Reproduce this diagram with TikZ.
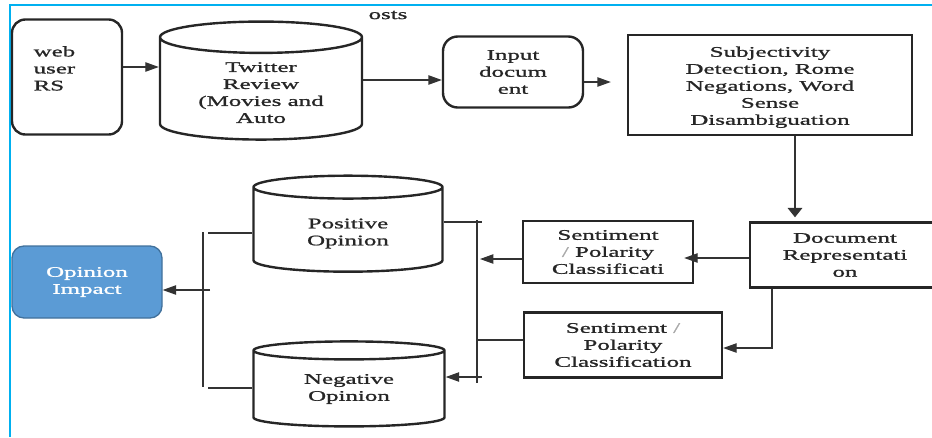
\documentclass[tikz,border=0pt]{standalone}
\usepackage{fontspec}
\setmainfont[FakeStretch=1.7,FakeBold=1.2]{Liberation Serif}
\usetikzlibrary{shapes.geometric,arrows.meta}
\definecolor{framecol}{HTML}{00B0F0}
\definecolor{impfill}{HTML}{5B9BD5}
\definecolor{impdraw}{HTML}{41719C}
\definecolor{slashcol}{HTML}{A8A8A8}
\newcommand\lineset[3][c]{\raisebox{#2}[0pt][0pt]{\begin{tabular}{@{}#1@{}}#3\end{tabular}}}

\begin{document}
\begin{tikzpicture}[x=0.75pt,y=-0.75pt,
        every node/.style={font=\fontsize{11}{12.75}\selectfont,align=center,text=black!85},
        box/.style={draw=black!85,line width=1.8pt,inner sep=0pt},
        roundbox/.style={box,rounded corners=10pt},
        dbase/.style={box,cylinder,shape border rotate=90,aspect=0.25},
        wire/.style={draw=black!80,line width=0.8pt},
        arr/.style={wire,-{Triangle[length=10pt,width=7pt]}}]
        \useasboundingbox (0,0) rectangle (932,437);
        \clip (0,0) rectangle (932,437);
        \draw[framecol,line width=1.6pt] (10,437) -- (10,5) -- (932,5);

        \node (posts) at (388,15) {osts};
        \node[roundbox,minimum width=82.5pt,minimum height=86.25pt,text width=50pt,align=left] (web) at (67,77) {\lineset[l]{2.5pt}{web\\user\\RS}};
        \node[dbase,minimum width=151.5pt,minimum height=88.5pt] (twitter) at (261,89) {\lineset{-6.5pt}{Twitter\\Review\\(Movies and\\Auto}};
        \node[roundbox,rounded corners=11pt,minimum width=105pt,minimum height=53.25pt] (input) at (513,72) {Input\\docum\\ent};
        \node[box,minimum width=213pt,minimum height=75pt] (subj) at (770,85) {\lineset{-4.5pt}{Subjectivity\\Detection, Rome\\Negations, Word\\Sense\\Disambiguation}};
        \node[box,minimum width=142.5pt,minimum height=48.75pt] (doc) at (845,255) {Document\\Representati\\on};
        \node[box,minimum width=127.5pt,minimum height=46.5pt] (sent1) at (608,252) {Sentiment\\{\color{slashcol}/} Polarity\\Classificati};
        \node[box,minimum width=148.5pt,minimum height=48.75pt] (sent2) at (623,345) {Sentiment {\color{slashcol}/}\\Polarity\\Classification};
        \node[dbase,aspect=0.28,minimum width=141.75pt,minimum height=72pt] (pos) at (348,230) {\lineset{-5.3pt}{Positive\\Opinion}};
        \node[dbase,aspect=0.2,minimum width=143.25pt,minimum height=63.75pt] (neg) at (349,389) {Negative\\Opinion};
        \node[roundbox,draw=impdraw,fill=impfill,rounded corners=9pt,line width=1pt,minimum width=112.5pt,minimum height=54pt,text=white] (impact) at (87,282) {Opinion\\Impact};

        \coordinate (rbtop) at (477,220);
        \coordinate (rbbot) at (477,383);
        \coordinate (lbtop) at (203,232);
        \coordinate (lbbot) at (203,387);
        \coordinate (rbA) at (482,222);
        \coordinate (rbB) at (480,259);
        \coordinate (rbC) at (477,340);
        \coordinate (rbD) at (482,377);
        \coordinate (lbA) at (208,233);
        \coordinate (lbB) at (210,290);
        \coordinate (lbC) at (208,388);

        \draw[arr] (web.east |- 0,67) -- (twitter.west |- 0,67);
        \draw[arr] (twitter.east |- 0,80) -- (input.west |- 0,80);
        \draw[arr,shorten >=12pt] (input.east |- 0,82) -- (subj.west |- 0,82);
        \draw[wire,-{Triangle[length=7pt,width=11pt]},shorten >=3pt] (subj.south -| 795,0) -- (doc.north -| 795,0);
        \draw[arr,shorten >=-7.5pt] (doc.west |- 0,258) -- (sent1.east |- 0,258);
        \draw[arr] (doc.south -| 772,0) |- (sent2.east |- 0,348);

        \draw[wire] (rbtop) -- (rbbot);
        \draw[wire] (lbtop) -- (lbbot);
        \draw[wire] (pos.east |- rbA) -- (rbA);
        \draw[arr] (sent1.west |- rbB) -- (rbB);
        \draw[wire] (sent2.west |- rbC) -- (rbC);
        \draw[arr] (rbD) -- (neg.east |- rbD);
        \draw[wire] (pos.west |- lbA) -- (lbA);
        \draw[wire] (neg.west |- lbC) -- (lbC);
        \draw[arr] (lbB) -- (impact.east |- lbB);
\end{tikzpicture}
\end{document}
